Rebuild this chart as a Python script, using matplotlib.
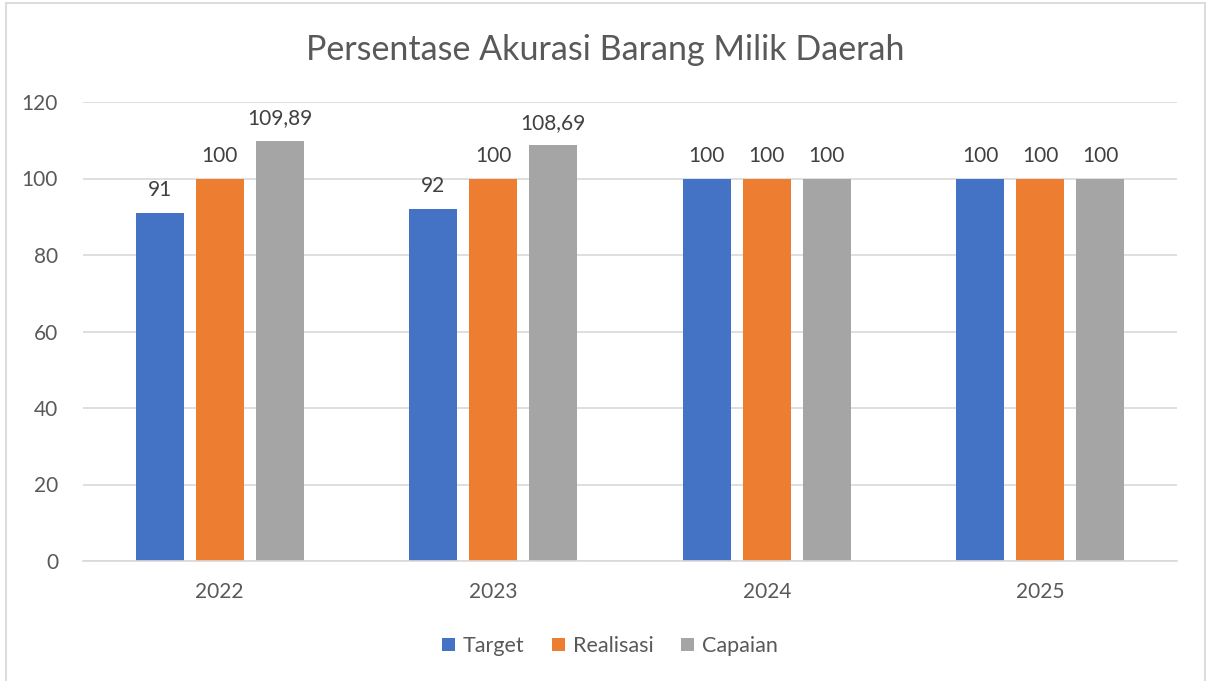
import numpy as np
import matplotlib.pyplot as plt
from matplotlib.patches import Rectangle

# data
years     = ["2022", "2023", "2024", "2025"]
target    = [91, 92, 100, 100]
realisasi = [100, 100, 100, 100]
capaian   = [109.89, 108.69, 100, 100]

series_names = ["Target", "Realisasi", "Capaian"]
colors       = ["#4472C4", "#ED7D31", "#A5A5A5"]

W, H = 1206, 681
plt.rcParams["font.family"] = ["Lato", "DejaVu Sans"]
TXT = "#595959"

fig = plt.figure(figsize=(W / 100, H / 100), dpi=100)
ax = fig.add_axes([83 / W, 1 - 561 / H, (1177 - 83) / W, (561 - 102) / H])

# chart border
fig.patches.append(Rectangle((6 / W, -0.01), (1205 - 6) / W, 1 - 3 / H + 0.01,
                             transform=fig.transFigure, fill=False,
                             edgecolor="#D9D9D9", linewidth=1.3))

x = np.arange(len(years))
bw = 0.175
step = 0.219
for i, (vals, name, c) in enumerate(zip([target, realisasi, capaian], series_names, colors)):
    bars = ax.bar(x + (i - 1) * step, vals, width=bw, color=c, label=name, zorder=2)
    for b, v in zip(bars, vals):
        lbl = f"{v:g}".replace(".", ",")
        ax.text(b.get_x() + b.get_width() / 2, v + 3.3, lbl, ha="center", va="bottom",
                fontsize=15, color="#404040")

ax.set_xlim(-0.5, len(years) - 0.5)
ax.set_ylim(0, 120)
ax.set_yticks(range(0, 121, 20))
ax.set_xticks(x)
ax.set_xticklabels(years)
ax.grid(axis="y", color="#D9D9D9", linewidth=1.2, zorder=0)
ax.set_axisbelow(True)
for s in ["top", "right", "left"]:
    ax.spines[s].set_visible(False)
ax.spines["bottom"].set_color("#D9D9D9")
ax.spines["bottom"].set_linewidth(1.2)
ax.tick_params(axis="both", length=0, labelsize=15, labelcolor=TXT)
ax.tick_params(axis="y", pad=18)
ax.tick_params(axis="x", pad=15)

fig.text(605 / W, 1 - 50 / H, "Persentase Akurasi Barang Milik Daerah",
         ha="center", va="center", fontsize=24.5, color=TXT)

fig.legend(loc="center", bbox_to_anchor=(610 / W, 1 - 646 / H), ncol=3,
           frameon=False, fontsize=15.5, labelcolor=TXT, handlelength=0.6,
           handleheight=0.6, handletextpad=0.35, columnspacing=1.3)

fig.savefig("out.png", dpi=100)
